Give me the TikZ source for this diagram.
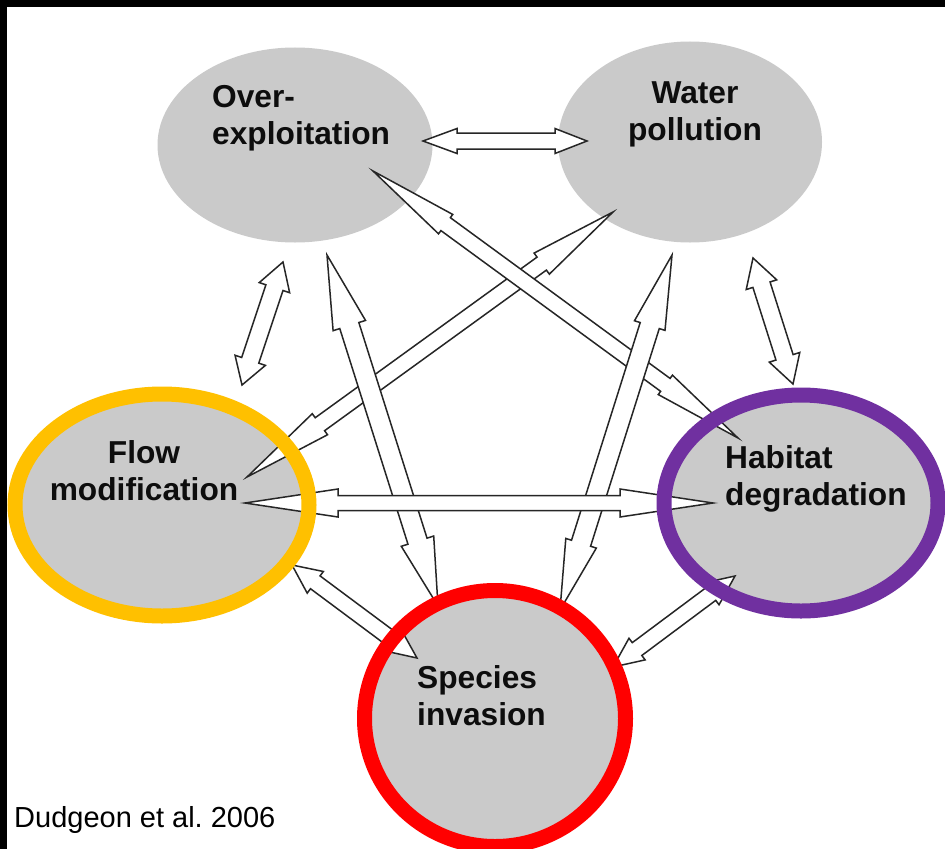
\documentclass[tikz,border=0pt]{standalone}
\usepackage{fontspec}
\setmainfont{Liberation Sans}
\usetikzlibrary{calc,shapes.geometric}
\definecolor{ellgray}{RGB}{202,202,202}
\definecolor{ringyellow}{RGB}{255,192,0}
\definecolor{ringpurple}{RGB}{112,48,160}
\definecolor{ringred}{RGB}{255,0,0}
\tikzset{
  blob/.style={ellipse, fill=ellgray, draw=none, inner sep=0pt},
  ringline/.style={ellipse, draw=#1, line width=15bp, inner sep=0pt, fill=none},
  lbl/.style={inner sep=0pt, text=black!95, font=\fontsize{31.7bp}{37bp}\selectfont\bfseries},
  arrowbody/.style={draw=black!85, fill=white, line width=1.5bp, line join=miter},
}
% #1 start tip, #2 end tip, #3 head length at start, #4 head length at end,
% #5 shaft half width, #6 head half width
\newcommand\hollowarrow[6]{%
  \coordinate (hA) at ($(#1)!#3!(#2)$);
  \coordinate (hB) at ($(#2)!#4!(#1)$);
  \draw[arrowbody] (#1) -- ($(hA)!#6!90:(#2)$) -- ($(hA)!#5!90:(#2)$)
    -- ($(hB)!#5!-90:(#1)$) -- ($(hB)!#6!-90:(#1)$) -- (#2)
    -- ($(hB)!#6!90:(#1)$) -- ($(hB)!#5!90:(#1)$)
    -- ($(hA)!#5!-90:(#2)$) -- ($(hA)!#6!-90:(#2)$) -- cycle;
}
\begin{document}
\begin{tikzpicture}[x=1bp,y=-1bp]
\useasboundingbox (0,0) rectangle (945,849);
\fill[black] (0,0) rectangle (945,849);
\fill[white] (7,7) rectangle (945,849);
\begin{scope}
\clip (7,7) rectangle (945,849);
% ellipse bodies
\node[blob, minimum width=275bp, minimum height=195bp] (oe) at (295,145) {};
\node[blob, minimum width=264bp, minimum height=201bp] (wp) at (690,142) {};
\node[blob, minimum width=294bp, minimum height=222bp] (fm) at (162,505) {};
\node[blob, minimum width=274bp, minimum height=216bp] (hd) at (801,503) {};
\node[blob, minimum width=261bp, minimum height=256bp] (si) at (495,718.5) {};
% arrow tips
\coordinate (oeR) at (423,141);   \coordinate (wpL) at (587,141);
\coordinate (oeB) at (283,262);   \coordinate (fmT) at (242,385);
\coordinate (oeS) at (327,255);   \coordinate (siL) at (438,606);
\coordinate (wpS) at (672,255);   \coordinate (siR) at (560,610);
\coordinate (oeH) at (373,171);   \coordinate (hdL) at (738,438);
\coordinate (wpF) at (613,212);   \coordinate (fmR) at (247,477);
\coordinate (wpB) at (753,258);   \coordinate (hdT) at (793,384);
\coordinate (fmH) at (245,503);   \coordinate (hdW) at (713,503);
\coordinate (fmS) at (292,565);   \coordinate (siW) at (417,658);
\coordinate (hdS) at (735,576);   \coordinate (siE) at (613,667);
% arrows
\hollowarrow{wpF}{fmR}{88bp}{90bp}{8bp}{13bp}
\hollowarrow{oeH}{hdL}{90bp}{90bp}{8bp}{12bp}
\hollowarrow{oeS}{siL}{74bp}{68bp}{10bp}{17bp}
\hollowarrow{wpS}{siR}{74bp}{70bp}{10bp}{16bp}
\hollowarrow{fmH}{hdW}{93bp}{93bp}{7.5bp}{14bp}
\hollowarrow{oeR}{wpL}{34bp}{32bp}{8bp}{12.5bp}
\hollowarrow{oeB}{fmT}{27bp}{26bp}{9bp}{16bp}
\hollowarrow{wpB}{hdT}{28bp}{28bp}{9bp}{16bp}
\hollowarrow{fmS}{siW}{29bp}{30bp}{8bp}{13.5bp}
\hollowarrow{hdS}{siE}{30bp}{30bp}{8bp}{13.5bp}
% coloured rings
\node[ringline=ringyellow, minimum width=294bp, minimum height=222bp] (fmRing) at (fm) {};
\node[ringline=ringpurple, minimum width=274bp, minimum height=216bp] (hdRing) at (hd) {};
\node[ringline=ringred, minimum width=261bp, minimum height=256bp] (siRing) at (si) {};
\end{scope}
% labels (base anchor = baseline of the last line)
\node[lbl, anchor=base west, align=left] (oeT) at (212,144) {Over-\\exploitation};
\node[lbl, anchor=base, align=center] (wpT) at (695,140) {Water\\pollution};
\node[lbl, anchor=base, align=center] (fmT2) at (144,500) {Flow\\modification};
\node[lbl, anchor=base west, align=left] (hdT2) at (725,505) {Habitat\\degradation};
\node[lbl, anchor=base west, align=left] (siT) at (417,725) {Species\\invasion};
\node[inner sep=0pt, anchor=base west, font=\fontsize{29bp}{34bp}\selectfont] (cite) at (14,827) {Dudgeon et al.\ 2006};
\end{tikzpicture}
\end{document}
